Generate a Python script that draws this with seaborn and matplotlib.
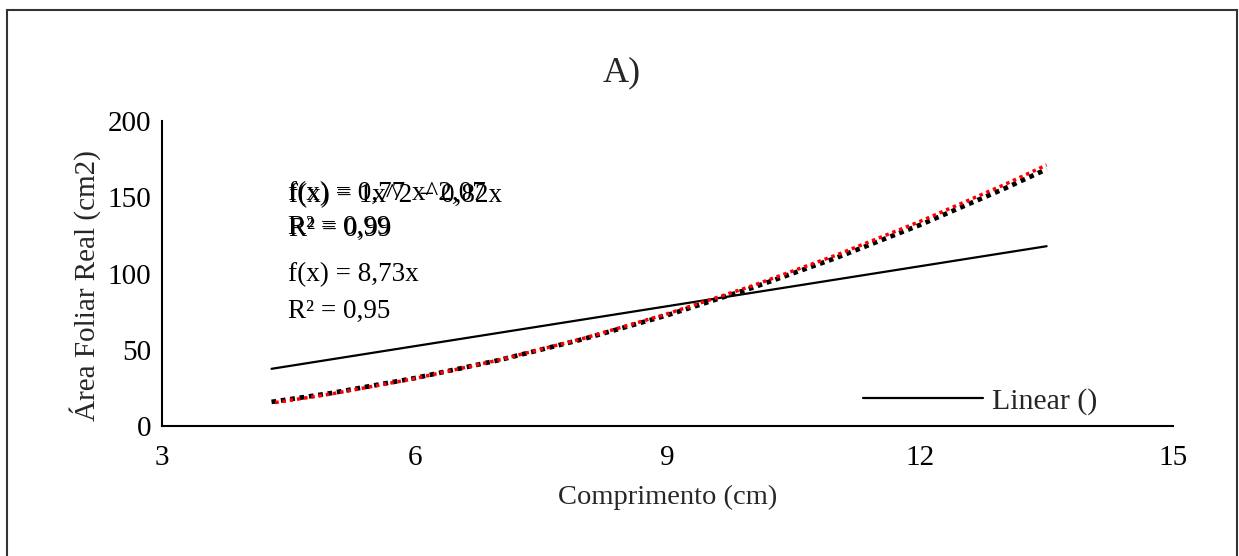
import matplotlib
matplotlib.use("Agg")
import matplotlib.pyplot as plt
import seaborn as sns
import pandas as pd
from matplotlib.patches import Rectangle
from matplotlib.lines import Line2D

# ---- data ----
x_pts = [4.3, 5, 6, 7, 8, 9, 10, 11, 12, 13, 13.5]
power_vals = [15.8, 21.5, 31.4, 43.2, 57.0, 72.7, 90.5, 110.2, 131.9, 155.7, 168.4]
poly_vals = [15.0, 20.9, 31.1, 43.3, 57.4, 73.6, 91.8, 112.0, 134.2, 158.3, 171.2]
lin_x = [4.3, 13.5]
lin_vals = [37.5, 117.9]

x_ticks = [3, 6, 9, 12, 15]
y_ticks = [0, 50, 100, 150, 200]

eq_power = "f(x) = 0,77 x^2,07\nR² = 0,99"
eq_poly = "f(x) = 1x^2 − 0,82x\nR² = 0,99"
eq_lin = "f(x) = 8,73x\nR² = 0,95"

sns.set_theme(style="white")
plt.rcParams["font.family"] = ["Liberation Serif", "DejaVu Serif"]

W, H = 1239, 556
fig = plt.figure(figsize=(W / 100, H / 100), dpi=100)
ax = fig.add_axes([162 / W, 1 - 426 / H, (1173 - 162) / W, (426 - 121) / H])

df_p = pd.DataFrame({"x": x_pts, "y": power_vals})
df_q = pd.DataFrame({"x": x_pts, "y": poly_vals})
df_l = pd.DataFrame({"x": lin_x, "y": lin_vals})

sns.lineplot(data=df_l, x="x", y="y", ax=ax, color="black", lw=1.6, sort=False)
sns.lineplot(data=df_p, x="x", y="y", ax=ax, color="black", lw=3.4,
             linestyle=(0, (1, 1)), sort=False)
sns.lineplot(data=df_q, x="x", y="y", ax=ax, color="red", lw=2.5,
             linestyle=(1, (1, 1.1)), sort=False)

ax.set_xlim(3, 15)
ax.set_ylim(0, 200)
ax.set_xticks(x_ticks)
ax.set_yticks(y_ticks)
ax.set_xticklabels([str(v) for v in x_ticks], fontsize=21)
ax.set_yticklabels([str(v) for v in y_ticks], fontsize=21)
ax.tick_params(axis="x", length=0, pad=14, colors="black")
ax.tick_params(axis="y", length=0, pad=8, colors="black")
for s in ["top", "right"]:
    ax.spines[s].set_visible(False)
for s in ["left", "bottom"]:
    ax.spines[s].set_color("black")
    ax.spines[s].set_linewidth(1.5)
ax.set_xlabel("")
ax.set_ylabel("")
ax.grid(False)

# equations (two trendline labels overlap in the reference)
ax.text(288 / W, 1 - 181 / H, eq_power, transform=fig.transFigure, fontsize=19.5,
        va="top", ha="left", linespacing=1.45, color="black")
ax.text(289 / W, 1 - 183 / H, eq_poly, transform=fig.transFigure, fontsize=19.5,
        va="top", ha="left", linespacing=1.45, color="black")
ax.text(288 / W, 1 - 262 / H, eq_lin, transform=fig.transFigure, fontsize=19.5,
        va="top", ha="left", linespacing=1.6, color="black")

# legend
handle = Line2D([], [], color="black", lw=1.6)
ax.legend([handle], ["Linear ()"], loc="center",
          bbox_to_anchor=((980 - 162) / (1173 - 162), (426 - 401) / (426 - 121)),
          frameon=False, fontsize=21.5, handlelength=4.0, handletextpad=0.3)

# titles / labels
fig.text(622 / W, 1 - 73 / H, "A)", fontsize=26, ha="center", va="center")
fig.text(668 / W, 1 - 497 / H, "Comprimento (cm)", fontsize=20.5, ha="center", va="center")
fig.text(85 / W, 1 - 286 / H, "Área Foliar Real (cm2)", fontsize=21, ha="center", va="center",
         rotation=90)

# chart area border
fig.patches.append(Rectangle((7 / W, -0.05), (1237 - 7) / W, 1.05 - 10 / H,
                             transform=fig.transFigure, fill=False,
                             edgecolor="#333333", lw=1.5))

fig.savefig("out.png", dpi=100)
